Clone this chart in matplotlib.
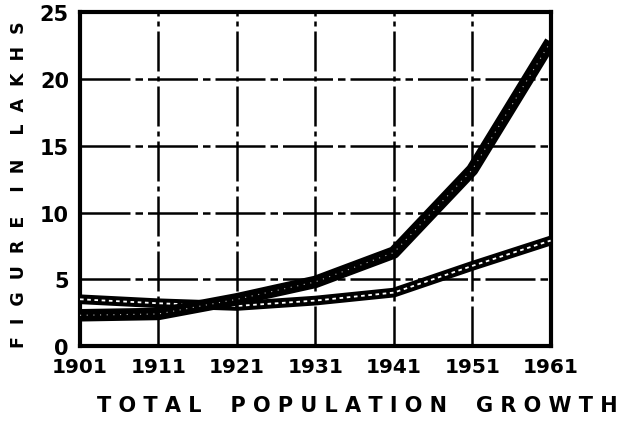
import matplotlib
matplotlib.use("Agg")
import matplotlib.pyplot as plt

years = [1901, 1911, 1921, 1931, 1941, 1951, 1961]
year_labels = ["1901", "1911", "1921", "1931", "1941", "1951", "1961"]
series_fast = [2.3, 2.4, 3.5, 4.8, 7.0, 13.2, 22.8]
series_slow = [3.5, 3.2, 3.0, 3.4, 4.0, 6.0, 7.9]
y_ticks = [0, 5, 10, 15, 20, 25]
y_tick_labels = ["0", "5", "10", "15", "20", "25"]

fig = plt.figure(figsize=(6.36, 4.39), dpi=100)
ax = fig.add_axes([0.1258, 0.2096, 0.740, 0.760])

ax.set_xlim(1901, 1961)
ax.set_ylim(0, 25)

for x in years[1:-1]:
    ax.axvline(x, color="black", lw=1.8, ls=(0, (16, 2, 2, 2)), zorder=1)
for y in y_ticks[1:-1]:
    ax.axhline(y, color="black", lw=1.8, ls=(0, (20, 2, 3, 2)), zorder=1)

ax.plot(years, series_slow, color="black", lw=7, solid_capstyle="butt", zorder=3)
ax.plot(years, series_slow, color="white", lw=1.3, ls=(0, (2, 2)), zorder=4)
ax.plot(years, series_fast, color="black", lw=9, solid_capstyle="butt", zorder=5)
ax.plot(years, series_fast, color="white", lw=0.8, ls=(0, (1, 5)), alpha=0.7, zorder=6)

for s in ax.spines.values():
    s.set_linewidth(3)
    s.set_color("black")

ax.set_xticks(years)
ax.set_xticklabels(year_labels, fontsize=14.5, fontweight="heavy")
ax.set_yticks(y_ticks)
ax.set_yticklabels(y_tick_labels, fontsize=15, fontweight="heavy")
ax.tick_params(length=0, pad=8)

fig.text(0.03, 0.58, "F  I  G  U  R  E    I  N    L  A  K  H  S", rotation=90,
         ha="center", va="center", fontsize=12.5, fontweight="heavy")
fig.text(0.562, 0.075, "T O T A L    P O P U L A T I O N    G R O W T H",
         ha="center", va="center", fontsize=15, fontweight="heavy")

fig.savefig("out.png", dpi=100)
